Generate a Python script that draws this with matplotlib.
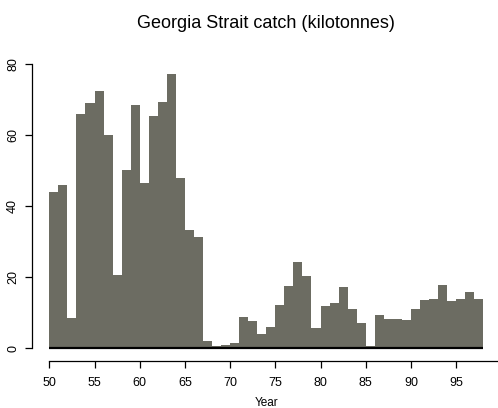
import matplotlib
matplotlib.use("Agg")
import matplotlib.pyplot as plt

years = list(range(50, 99))  # bar edges, one bar per year 1950-1997
catch = [
    44.1, 46.0, 8.6, 66.1, 69.1, 72.4, 60.0, 20.6, 50.3, 68.4,
    46.5, 65.5, 69.3, 77.3, 48.1, 33.3, 31.3, 2.1, 0.7, 0.9,
    1.6, 8.8, 7.6, 4.0, 6.1, 12.3, 17.5, 24.2, 20.3, 5.7,
    12.0, 12.8, 17.2, 11.0, 7.1, 0.6, 9.3, 8.3, 8.3, 8.0,
    11.2, 13.6, 13.75, 17.8, 13.2, 14.0, 15.8, 13.75,
]
x_ticks = [50, 55, 60, 65, 70, 75, 80, 85, 90, 95]
y_ticks = [0, 20, 40, 60, 80]

plt.rcParams["font.family"] = ["Liberation Sans", "DejaVu Sans"]

W, H = 498, 408
fig = plt.figure(figsize=(W / 100, H / 100), dpi=100)
ax = fig.add_axes([49.3 / W, (H - 348.3) / H, 452 / W, 284 / H])

ax.stairs(catch, years, fill=True, color="#6c6c62", baseline=0)
ax.plot([years[0], years[-1]], [0, 0], color="black", lw=1.6,
        clip_on=False, solid_capstyle="butt")

ax.set_xlim(50, 100)
ax.set_ylim(0, 80)

for s in ["top", "right"]:
    ax.spines[s].set_visible(False)
ax.spines["bottom"].set_position(("outward", 12.4 * 0.72))
ax.spines["left"].set_position(("outward", 17 * 0.72))
ax.spines["bottom"].set_bounds(50, 100)
ax.spines["left"].set_bounds(0, 80)
for s in ["bottom", "left"]:
    ax.spines[s].set_linewidth(0.9)

ax.set_xticks(x_ticks)
ax.set_yticks(y_ticks)
ax.tick_params(axis="both", length=5, width=0.9, labelsize=9, color="black")
ax.tick_params(axis="x", pad=6.5)
ax.tick_params(axis="y", pad=4.5)
for lbl in ax.get_yticklabels():
    lbl.set_rotation(90)
    lbl.set_va("center")

fig.text(266.5 / W, 1 - 406.5 / H, "Year", ha="center", va="baseline", fontsize=8.5)
fig.text(266 / W, 1 - 28.3 / H, "Georgia Strait catch (kilotonnes)",
         ha="center", va="baseline", fontsize=13)

fig.savefig("out.png", dpi=100)
